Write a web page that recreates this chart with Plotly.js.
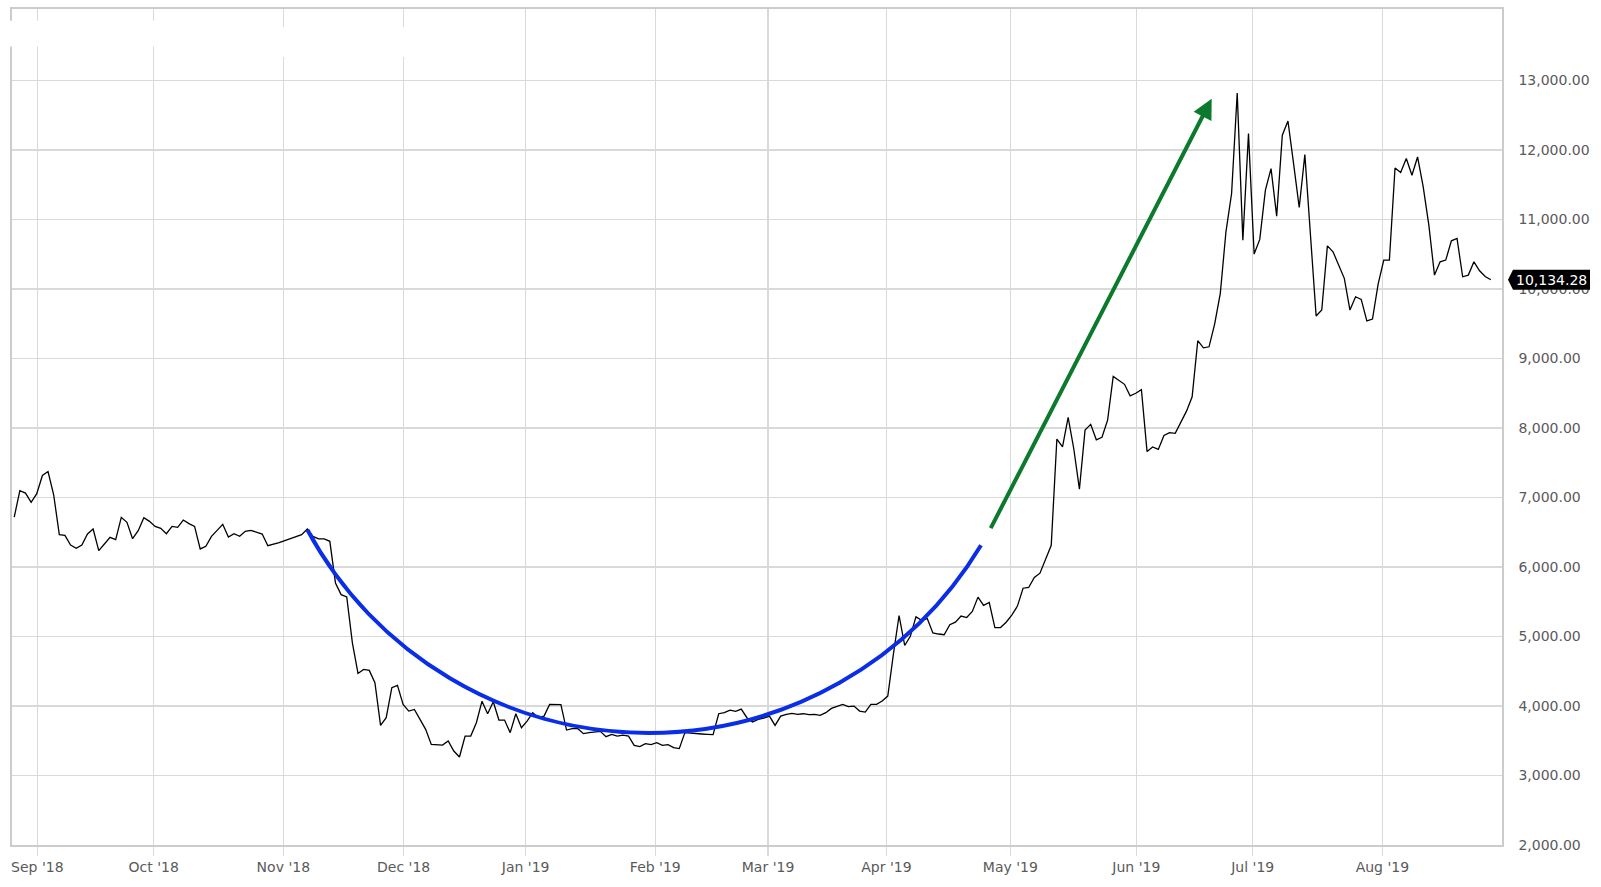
<!DOCTYPE html>
<html>
<head>
<meta charset="utf-8">
<script src="https://cdn.plot.ly/plotly-3.0.1.min.js"></script>
<style>
  html, body { margin: 0; padding: 0; background: #ffffff; }
  #chart { width: 1601px; height: 887px; }
</style>
</head>
<body>
<div id="chart"></div>
<script>
// ---- Data: weekday closing values, one array per month ----
const aug18 = [6719, 7098, 7064, 6930, 7055];
const sep18 = [7318, 7375, 7040, 6466, 6456, 6317, 6269, 6317, 6475, 6547, 6236, 6331, 6427, 6394, 6715, 6643, 6408, 6523, 6710, 6657];
const oct18 = [6585, 6557, 6480, 6585, 6571, 6676, 6624, 6585, 6260, 6298, 6442, 6528, 6614, 6432, 6480, 6442, 6513, 6528, 6499, 6475, 6307, 6327, 6350];
const nov18 = [6380, 6405, 6435, 6466, 6547, 6441, 6404, 6404, 6370, 5771, 5603, 5570, 4910, 4468, 4526, 4512, 4335, 3721, 3832, 4263, 4296, 4023];
const dec18 = [3927, 3951, 3807, 3664, 3448, 3448, 3438, 3496, 3352, 3266, 3568, 3568, 3760, 4070, 3889, 4061, 3798, 3798, 3617, 3889, 3688];
const jan19 = [3783, 3903, 3832, 3855, 4023, 4023, 4020, 3654, 3674, 3674, 3602, 3617, 3625, 3635, 3559, 3592, 3568, 3582, 3568, 3434, 3415, 3458, 3444];
const feb19 = [3473, 3434, 3444, 3401, 3387, 3617, 3607, 3602, 3597, 3592, 3588, 3889, 3904, 3941, 3922, 3956, 3832, 3769, 3807, 3826];
const mar19 = [3855, 3721, 3855, 3879, 3894, 3879, 3889, 3875, 3879, 3865, 3904, 3966, 3999, 4023, 3990, 3999, 3927, 3912, 4023, 4023, 4071];
const apr19 = [4143, 4750, 5302, 4871, 5004, 5283, 5232, 5258, 5052, 5036, 5026, 5170, 5206, 5294, 5273, 5361, 5567, 5448, 5489, 5129, 5129, 5206];
const may19 = [5309, 5438, 5695, 5706, 5850, 5911, 6107, 6313, 7842, 7728, 8155, 7702, 7121, 7970, 8053, 7831, 7867, 8114, 8742, 8691, 8629, 8464, 8500];
const jun19 = [8552, 7661, 7728, 7692, 7893, 7934, 7924, 8089, 8243, 8449, 9257, 9154, 9169, 9500, 9938, 10824, 11375, 12821, 10704, 12237];
const jul19 = [10503, 10714, 11423, 11734, 11049, 12213, 12418, 11806, 11174, 11935, 10776, 9612, 9698, 10622, 10536, 10345, 10154, 9698, 9889, 9852, 9541, 9569, 10072];
const aug19 = [10417, 10417, 11743, 11677, 11878, 11638, 11901, 11470, 10920, 10201, 10392, 10417, 10694, 10728, 10177, 10201, 10392, 10263, 10180, 10134.28];

const monthLabels = ["Sep '18", "Oct '18", "Nov '18", "Dec '18", "Jan '19", "Feb '19", "Mar '19", "Apr '19", "May '19", "Jun '19", "Jul '19", "Aug '19"];
const monthFirstDays = ["2018-09-01", "2018-10-01", "2018-11-01", "2018-12-01", "2019-01-01", "2019-02-01", "2019-03-01", "2019-04-01", "2019-05-01", "2019-06-01", "2019-07-01", "2019-08-01"];
const yTicks = [2000, 3000, 4000, 5000, 6000, 7000, 8000, 9000, 10000, 11000, 12000, 13000];
const lastPrice = 10134.28;

// ---- Build series (x = weekday index, 0 = first weekday of Sep '18) ----
const months = [aug18, sep18, oct18, nov18, dec18, jan19, feb19, mar19, apr19, may19, jun19, jul19, aug19];
const values = [].concat(...months);
const firstIdx = -aug18.length;
const xs = values.map((_, i) => i + firstIdx);

// tick positions: start of each month on the weekday axis
const tickvals = [];
let cum = 0;
for (let m = 1; m < months.length; m++) {
  const dow = new Date(monthFirstDays[m - 1] + "T00:00:00Z").getUTCDay();
  const weekend = (dow === 0 || dow === 6);
  tickvals.push(cum - (weekend ? 0.9 : 0.25));
  cum += months[m].length;
}

// ---- Annotation geometry (drawn marks on top of the chart) ----
const cup = { cx: 107.56, cy: 9188, rx: 68.84, ry: 5575, from: 151.6, mid: 90, to: 31.05 };
const rise = { x0: 168.13, y0: 6537, x1: 207.47, y1: 12740 };

function E(t) { const r = t * Math.PI / 180; return [cup.cx + cup.rx * Math.cos(r), cup.cy - cup.ry * Math.sin(r)]; }
function Dv(t) { const r = t * Math.PI / 180; return [-cup.rx * Math.sin(r), -cup.ry * Math.cos(r)]; }
function seg(t1, t2) {
  const d = (t2 - t1) * Math.PI / 180;
  const k = 4 / 3 * Math.tan(d / 4);
  const p0 = E(t1), p3 = E(t2), d1 = Dv(t1), d2 = Dv(t2);
  const p1 = [p0[0] + k * d1[0], p0[1] + k * d1[1]];
  const p2 = [p3[0] - k * d2[0], p3[1] - k * d2[1]];
  return { p0, p1, p2, p3 };
}
const f = p => p[0].toFixed(3) + ',' + p[1].toFixed(1);
const s1 = seg(cup.from, cup.mid), s2 = seg(cup.mid, cup.to);
const cupPath = 'M' + f(s1.p0) + ' C' + f(s1.p1) + ' ' + f(s1.p2) + ' ' + f(s1.p3) +
                ' C' + f(s2.p1) + ' ' + f(s2.p2) + ' ' + f(s2.p3);

const FONT = 'DejaVu Sans, Verdana, sans-serif';
const GRID = '#d9d9d9';

const trace = {
  type: 'scatter', mode: 'lines', x: xs, y: values,
  line: { color: '#000000', width: 1.3 }, hoverinfo: 'skip'
};

const layout = {
  width: 1601, height: 887,
  margin: { l: 12, r: 99, t: 9, b: 42, pad: 0 },
  paper_bgcolor: '#ffffff', plot_bgcolor: '#ffffff',
  showlegend: false, hovermode: false,
  font: { family: FONT, size: 14, color: '#5a5a5a' },
  xaxis: {
    type: 'linear', range: [-5.394, 258.98],
    tickmode: 'array', tickvals: tickvals, ticktext: monthLabels,
    ticks: 'outside', ticklen: 9, tickwidth: 1.3, tickcolor: GRID,
    showgrid: true, gridcolor: GRID, gridwidth: 1.3, zeroline: false,
    showline: true, mirror: true, linecolor: '#cccccc', linewidth: 1.6,
    tickfont: { family: FONT, size: 14, color: '#5a5a5a' }, fixedrange: true
  },
  yaxis: {
    side: 'right', range: [2000, 14030],
    tickmode: 'array', tickvals: yTicks, tickformat: ',.2f',
    ticks: '', ticklabelstandoff: 12,
    showgrid: true, gridcolor: GRID, gridwidth: 1.3, zeroline: false,
    showline: true, mirror: true, linecolor: '#cccccc', linewidth: 1.6,
    tickfont: { family: FONT, size: 14, color: '#5a5a5a' }, fixedrange: true
  },
  shapes: [
    { type: 'path', xref: 'x', yref: 'y', path: cupPath, layer: 'above',
      line: { color: '#0a2de8', width: 4 } },
    // price tag behind the last value
    { type: 'path', xref: 'paper', yref: 'y', xsizemode: 'pixel', ysizemode: 'pixel',
      xanchor: 1, yanchor: lastPrice, layer: 'above',
      path: 'M6,0 L11,10 L88,10 L88,-10 L11,-10 Z',
      fillcolor: '#000000', line: { width: 0 } },
    // faded legend area in the top-left corner
    { type: 'rect', xref: 'paper', yref: 'paper', layer: 'above',
      x0: -0.003, x1: 0.125, y0: 0.955, y1: 0.986, fillcolor: '#ffffff', line: { width: 0 } },
    { type: 'rect', xref: 'paper', yref: 'paper', layer: 'above',
      x0: 0.125, x1: 0.307, y0: 0.9426, y1: 0.9785, fillcolor: '#ffffff', line: { width: 0 } }
  ],
  annotations: [
    { x: rise.x1, y: rise.y1, ax: rise.x0, ay: rise.y0, xref: 'x', yref: 'y', axref: 'x', ayref: 'y',
      text: '', showarrow: true, arrowhead: 2, arrowsize: 1, arrowwidth: 4, arrowcolor: '#0c7a2c', standoff: 0 },
    { x: 1, xref: 'paper', xanchor: 'left', xshift: 12, y: lastPrice, yref: 'y', yanchor: 'middle',
      text: '10,134.28', showarrow: false, font: { family: FONT, size: 14, color: '#ffffff' } }
  ]
};

Plotly.newPlot('chart', [trace], layout, { staticPlot: true, displayModeBar: false });
</script>
</body>
</html>
